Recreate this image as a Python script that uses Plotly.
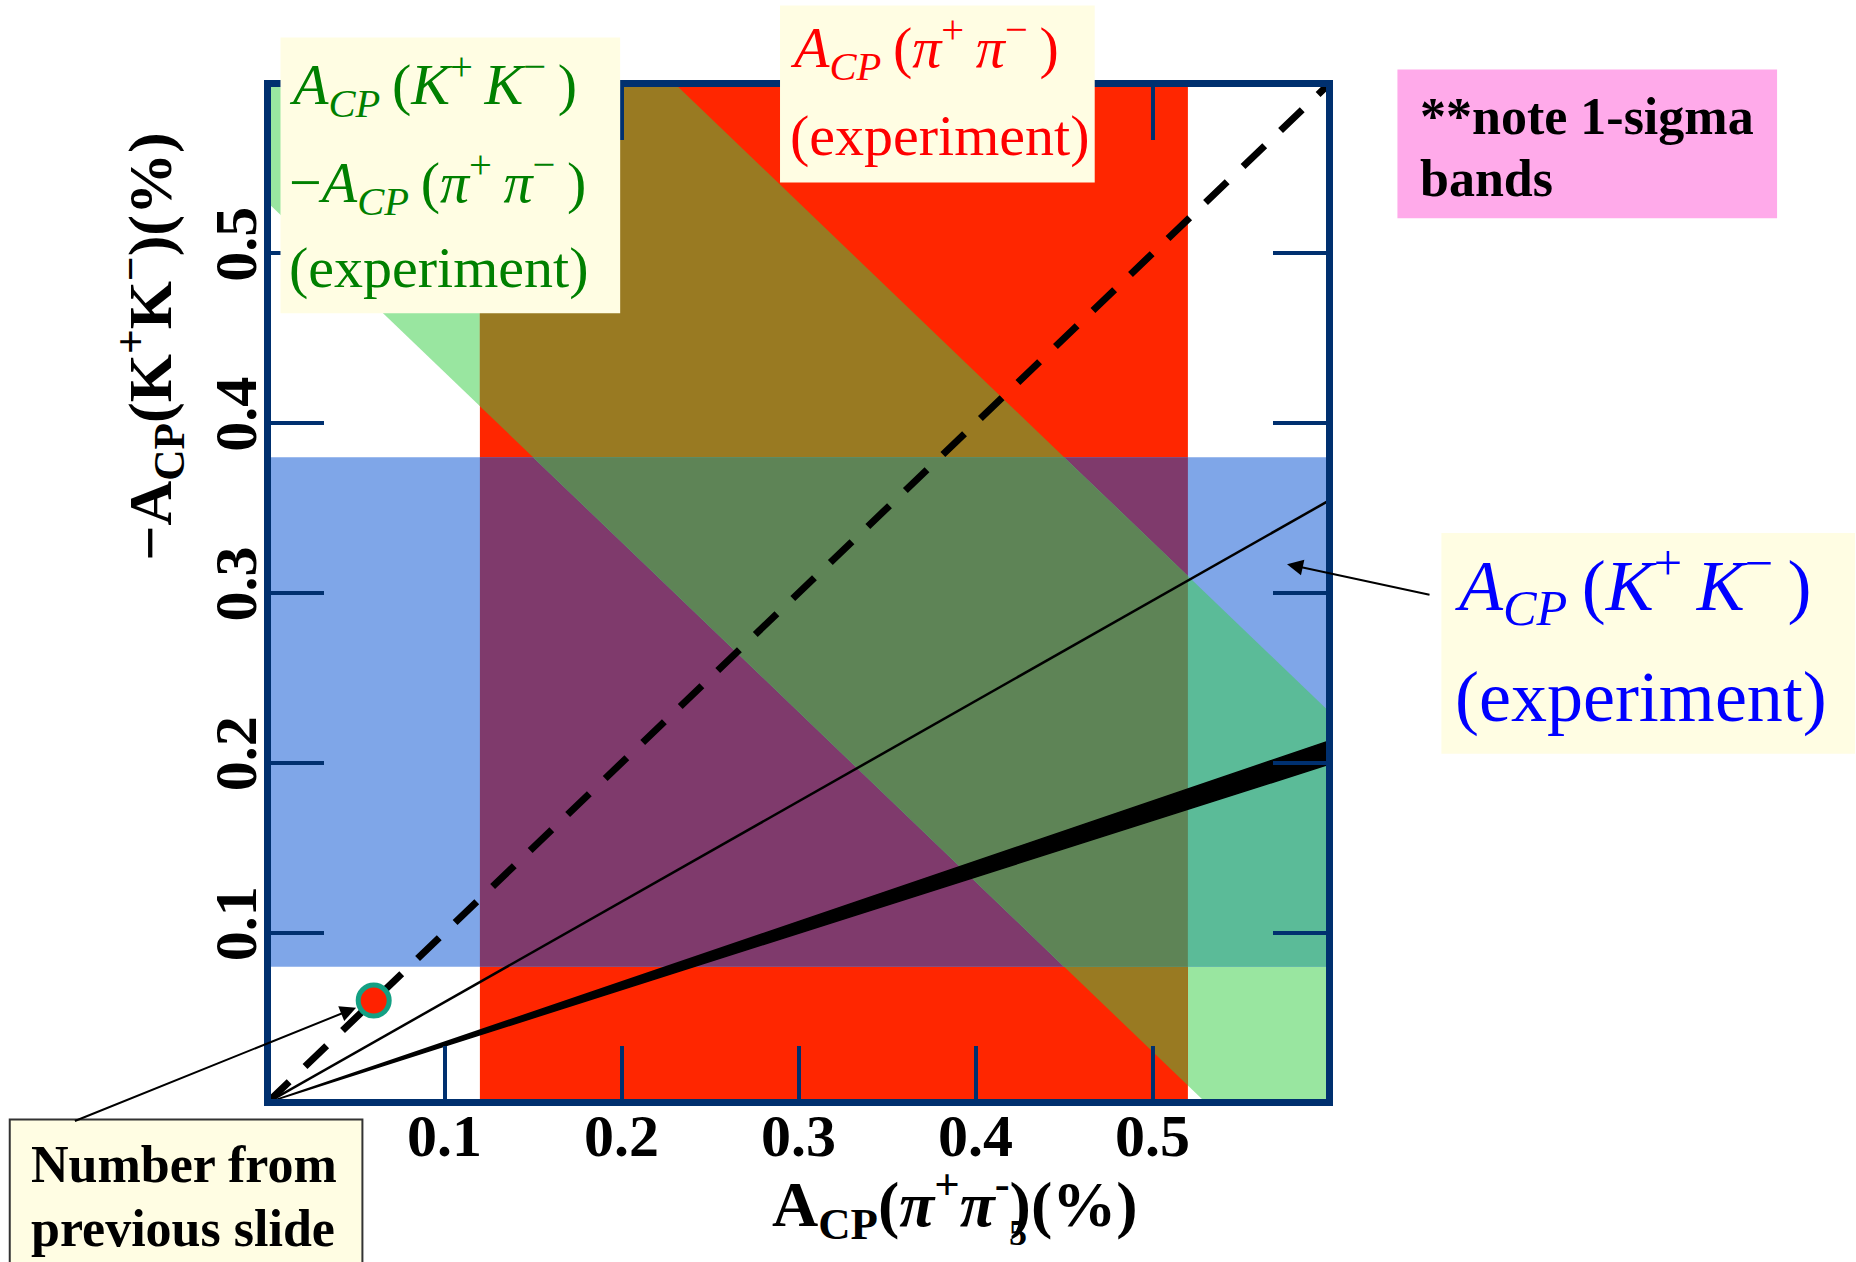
import plotly.graph_objects as go

# ---------------- data ----------------
x_range = [0.0, 0.6]
y_range = [0.0, 0.6]
tick_vals = [0.1, 0.2, 0.3, 0.4, 0.5]
tick_text = ["0.1", "0.2", "0.3", "0.4", "0.5"]

pipi_band = [0.12, 0.52]   # A_CP(pi+pi-) 1-sigma band (x)
kk_band = [0.08, 0.38]     # -A_CP(K+K-) 1-sigma band (y)
diff_band = [0.53, 0.83]   # band in x + y  (A_CP(KK) - A_CP(pipi))

thin_slope = 0.591          # thin solid line from origin
thin_xend = 0.6025
wedge_slopes = [0.332, 0.355]  # thick black wedge
diag_slope = 1.0            # dashed y = x
dot_x = [0.06]
dot_y = [0.06]

# ---------------- styles ----------------
FONT = "Liberation Serif"
NAVY = "#00306F"
C_G = "#99E6A0"
C_R = "#FF2600"
C_B = "#7FA6E8"
C_RG = "#997A22"
C_RB = "#7F3A6C"
C_BG = "#5BBB98"
C_RGB = "#5E8456"
BOX = "#FFFDE3"

W, H = 1856, 1262
# pixel positions of data extremes (axis line centres)
X0, X1, Y0, Y1 = 267.0, 1330.0, 1103.0, 83.0
LW = 7
half = LW / 2.0
sx = (X1 - X0) / (x_range[1] - x_range[0])
sy = (Y0 - Y1) / (y_range[1] - y_range[0])
# plotly draws the axis line just outside the plot area -> shrink area by half a line
PL, PR, PT, PB = X0 + half, X1 - half, Y1 + half, Y0 - half
xr = [x_range[0] + half / sx, x_range[1] - half / sx]
yr = [y_range[0] + half / sy, y_range[1] - half / sy]


def px(xp):
    return (xp - PL) / (PR - PL)


def py(yp):
    return (PB - yp) / (PB - PT)


def clip(poly, a, b, c):
    """keep a*x + b*y <= c"""
    out = []
    n = len(poly)
    for i in range(n):
        P, Q = poly[i], poly[(i + 1) % n]
        fp = a * P[0] + b * P[1] - c
        fq = a * Q[0] + b * Q[1] - c
        if fp <= 0:
            out.append(P)
        if fp * fq < 0:
            t = fp / (fp - fq)
            out.append((P[0] + t * (Q[0] - P[0]), P[1] + t * (Q[1] - P[1])))
    return out


box = [(x_range[0], y_range[0]), (x_range[1], y_range[0]),
       (x_range[1], y_range[1]), (x_range[0], y_range[1])]
red_c = [(-1, 0, -pipi_band[0]), (1, 0, pipi_band[1])]
blue_c = [(0, -1, -kk_band[0]), (0, 1, kk_band[1])]
green_c = [(-1, -1, -diff_band[0]), (1, 1, diff_band[1])]


def region(*cons):
    poly = list(box)
    for group in cons:
        for a, b, c in group:
            poly = clip(poly, a, b, c)
    return poly


regions = [
    (region(green_c), C_G),
    (region(red_c), C_R),
    (region(blue_c), C_B),
    (region(red_c, green_c), C_RG),
    (region(red_c, blue_c), C_RB),
    (region(blue_c, green_c), C_BG),
    (region(red_c, blue_c, green_c), C_RGB),
]

fig = go.Figure()
for poly, col in regions:
    xs = [p[0] for p in poly] + [poly[0][0]]
    ys = [p[1] for p in poly] + [poly[0][1]]
    fig.add_trace(go.Scatter(x=xs, y=ys, mode="lines", fill="toself",
                             fillcolor=col, line=dict(width=0, color=col),
                             hoverinfo="skip", showlegend=False))

# wedge
xe = x_range[1]
fig.add_trace(go.Scatter(x=[0, xe, xe, 0], y=[0, xe * wedge_slopes[0], xe * wedge_slopes[1], 0],
                         mode="lines", fill="toself", fillcolor="black",
                         line=dict(width=1.5, color="black"), hoverinfo="skip", showlegend=False))
# thin line
fig.add_trace(go.Scatter(x=[0, thin_xend], y=[0, thin_xend * thin_slope], mode="lines",
                         line=dict(width=2.5, color="black"), hoverinfo="skip", showlegend=False))
# dashed diagonal
fig.add_trace(go.Scatter(x=[0, xe], y=[0, xe * diag_slope], mode="lines",
                         line=dict(width=7, color="black", dash="30px,22px"),
                         hoverinfo="skip", showlegend=False))
# dot
fig.add_trace(go.Scatter(x=dot_x, y=dot_y, mode="markers",
                         marker=dict(size=31, color="#FF2200", line=dict(width=5, color="#14A083")),
                         hoverinfo="skip", showlegend=False))

axis_common = dict(showline=True, linecolor=NAVY, linewidth=LW, mirror="ticks",
                   ticks="inside", ticklen=53, tickwidth=4, tickcolor=NAVY,
                   tickvals=tick_vals, ticktext=tick_text, showgrid=False, zeroline=False,
                   automargin=False,
                   tickfont=dict(family=FONT, size=60, color="black", weight="bold"))

fig.update_layout(
    width=W, height=H, template="none",
    margin=dict(l=PL, r=W - PR, t=PT, b=H - PB, pad=0),
    paper_bgcolor="white", plot_bgcolor="white",
    xaxis=dict(**axis_common, range=xr, ticklabelstandoff=-22),
    yaxis=dict(**axis_common, range=yr, tickangle=-90, ticklabelstandoff=-16),
    showlegend=False,
)

shapes = []


def rect(x0, y0, x1, y1, fill, line_w=0, line_c="rgba(0,0,0,0)"):
    shapes.append(dict(type="rect", xref="paper", yref="paper", layer="above",
                       x0=px(x0), x1=px(x1), y0=py(y1), y1=py(y0),
                       fillcolor=fill, line=dict(width=line_w, color=line_c)))


rect(280, 37, 620, 313, BOX)
rect(780, 5, 1095, 182, BOX)
rect(1398, 69, 1778, 218, "#FFAAEA")
rect(1442, 533, 1856, 754, BOX)
rect(9, 1120, 362, 1275, BOX, 2, "#333333")
fig.update_layout(shapes=shapes)

ann = []


def text(xp, yp, s, size, color, xanchor="left", angle=0):
    ann.append(dict(xref="paper", yref="paper", x=px(xp), y=py(yp), text=s, showarrow=False,
                    xanchor=xanchor, yanchor="middle", textangle=angle,
                    font=dict(family=FONT, size=size, color=color)))


ACP = "<i>A</i><sub><i>CP</i></sub>\u2009"
KK = "(<i>K</i><sup>+</sup>\u2009<i>K</i><sup>−</sup>\u2009)"
PP = "(<i>π</i><sup>+</sup>\u2009<i>π</i><sup>−</sup>\u2009)"

text(287, 84, ACP + KK, 58, "#008000")
text(287, 183, "−" + ACP + PP, 58, "#008000")
text(287, 267, "(experiment)", 58, "#008000")

text(788, 47, ACP + PP, 58, "#FF0000")
text(788, 135, "(experiment)", 58, "#FF0000")

text(1454, 585, ACP + KK, 72, "#0000FF")
text(1454, 697, "(experiment)", 72, "#0000FF")

text(1419, 116, "<b>**note 1-sigma</b>", 52, "black")
text(1419, 178, "<b>bands</b>", 52, "black")

text(28, 1165, "<b>Number from</b>", 52, "black")
text(28, 1229, "<b>previous slide</b>", 52, "black")

text(955, 1205, "<b>A<sub>CP</sub>(<i>π</i><sup>+</sup><i>π</i><sup>-</sup>)(%)</b>", 64, "black", "center")
text(149, 347, "<b>−A<sub>CP</sub>(K<sup>+</sup>K<sup>−</sup>)(%)</b>", 62, "black", "center", -90)
text(1018, 1234, "<b>5</b>", 36, "black", "center")

# arrows (tail offsets in pixels from the pointed-at position)
dot_px = (X0 + dot_x[0] * sx, Y0 - dot_y[0] * sy)
ann.append(dict(x=dot_x[0], y=dot_y[0], xref="x", yref="y",
                ax=73 - dot_px[0], ay=1122 - dot_px[1],
                axref="pixel", ayref="pixel", text="", showarrow=True, arrowhead=2,
                arrowsize=1.6, arrowwidth=2, arrowcolor="black", standoff=19))
ann.append(dict(x=0.576, y=0.317, xref="x", yref="y", ax=1432 - 1288, ay=595 - 564,
                text="", showarrow=True, arrowhead=2, arrowsize=1.6, arrowwidth=2,
                arrowcolor="black"))
fig.update_layout(annotations=ann)

fig.write_html("out.html", config={"displayModeBar": False},
               post_script="document.body.style.margin='0px';")
